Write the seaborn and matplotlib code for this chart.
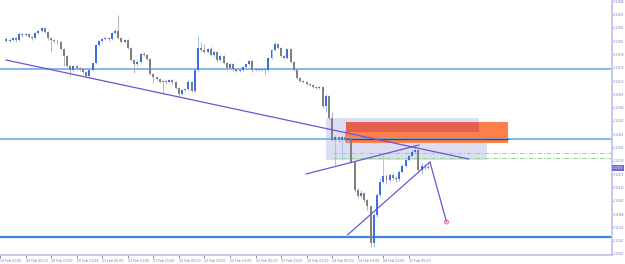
import matplotlib
matplotlib.use("Agg")
import matplotlib.pyplot as plt
import matplotlib.transforms as mtransforms
from matplotlib.patches import Rectangle
import seaborn as sns
import numpy as np
import pandas as pd

# ---------------- data (EURUSD-like H1 candles) ----------------
first_open = 1.13626
closes = [1.13602, 1.13614, 1.13639, 1.13614, 1.13688, 1.13675, 1.13688, 1.13651, 1.13639, 1.13700,
          1.13724, 1.13761, 1.13712, 1.13639, 1.13614, 1.13602, 1.13590, 1.13504, 1.13419, 1.13296,
          1.13248, 1.13296, 1.13272, 1.13260, 1.13223, 1.13174, 1.13248, 1.13333, 1.13553, 1.13602,
          1.13626, 1.13639, 1.13626, 1.13700, 1.13724, 1.13639, 1.13590, 1.13614, 1.13516, 1.13370,
          1.13321, 1.13345, 1.13443, 1.13431, 1.13382, 1.13199, 1.13162, 1.13138, 1.13101, 1.13113,
          1.13101, 1.13125, 1.13101, 1.13028, 1.12954, 1.13003, 1.13015, 1.13101, 1.12991, 1.13248,
          1.13516, 1.13492, 1.13468, 1.13504, 1.13431, 1.13468, 1.13370, 1.13419, 1.13333, 1.13272,
          1.13321, 1.13260, 1.13235, 1.13248, 1.13284, 1.13321, 1.13358, 1.13248, 1.13260, 1.13248,
          1.13260, 1.13248, 1.13394, 1.13492, 1.13565, 1.13516, 1.13419, 1.13394, 1.13504, 1.13345,
          1.13248, 1.13150, 1.13113, 1.13101, 1.13077, 1.13064, 1.13040, 1.13028, 1.13040, 1.12808,
          1.12930, 1.12661, 1.12392, 1.12429, 1.12392, 1.12429, 1.12392, 1.12417, 1.12123, 1.11781,
          1.11708, 1.11745, 1.11659, 1.11586, 1.11134, 1.11476, 1.11720, 1.11879, 1.11952, 1.11903,
          1.11964, 1.11928, 1.11916, 1.12001, 1.12074, 1.12148, 1.12197, 1.12246, 1.12270, 1.12026,
          1.12074, 1.12062, 1.12050]
highs = [1.13651, 1.13639, 1.13651, 1.13651, 1.13712, 1.13700, 1.13700, 1.13700, 1.13663, 1.13712,
         1.13736, 1.13773, 1.13773, 1.13724, 1.13651, 1.13626, 1.13614, 1.13602, 1.13516, 1.13431,
         1.13309, 1.13309, 1.13309, 1.13284, 1.13272, 1.13235, 1.13260, 1.13345, 1.13565, 1.13614,
         1.13639, 1.13651, 1.13651, 1.13712, 1.13749, 1.13920, 1.13651, 1.13626, 1.13626, 1.13529,
         1.13382, 1.13370, 1.13455, 1.13468, 1.13443, 1.13394, 1.13211, 1.13174, 1.13150, 1.13125,
         1.13125, 1.13138, 1.13138, 1.13113, 1.13040, 1.13015, 1.13028, 1.13125, 1.13113, 1.13260,
         1.13675, 1.13590, 1.13565, 1.13516, 1.13529, 1.13480, 1.13480, 1.13431, 1.13431, 1.13345,
         1.13333, 1.13333, 1.13272, 1.13260, 1.13296, 1.13333, 1.13370, 1.13370, 1.13272, 1.13272,
         1.13272, 1.13272, 1.13406, 1.13504, 1.13590, 1.13578, 1.13529, 1.13431, 1.13516, 1.13516,
         1.13358, 1.13260, 1.13162, 1.13125, 1.13113, 1.13089, 1.13077, 1.13052, 1.13052, 1.13052,
         1.12954, 1.12942, 1.12734, 1.12453, 1.12441, 1.12453, 1.12514, 1.12429, 1.12429, 1.12136,
         1.11806, 1.11781, 1.11757, 1.11671, 1.11598, 1.11500, 1.11745, 1.11928, 1.12209, 1.11977,
         1.11989, 1.11989, 1.11952, 1.12026, 1.12099, 1.12172, 1.12221, 1.12282, 1.12331, 1.12282,
         1.12111, 1.12099, 1.12087]
lows = [1.13590, 1.13590, 1.13602, 1.13590, 1.13602, 1.13651, 1.13663, 1.13639, 1.13614, 1.13626,
        1.13688, 1.13712, 1.13700, 1.13614, 1.13468, 1.13578, 1.13565, 1.13492, 1.13296, 1.13284,
        1.13174, 1.13235, 1.13248, 1.13235, 1.13199, 1.13150, 1.13150, 1.13235, 1.13321, 1.13541,
        1.13578, 1.13614, 1.13602, 1.13614, 1.13688, 1.13626, 1.13578, 1.13578, 1.13504, 1.13358,
        1.13211, 1.13296, 1.13333, 1.13419, 1.13370, 1.13186, 1.13089, 1.13125, 1.13089, 1.12967,
        1.13077, 1.13089, 1.13077, 1.13015, 1.12918, 1.12942, 1.12991, 1.13003, 1.12979, 1.12967,
        1.13235, 1.13468, 1.13455, 1.13455, 1.13419, 1.13406, 1.13345, 1.13358, 1.13321, 1.13248,
        1.13260, 1.13235, 1.13223, 1.13223, 1.13235, 1.13272, 1.13309, 1.13223, 1.13235, 1.13235,
        1.13235, 1.13199, 1.13235, 1.13382, 1.13480, 1.13504, 1.13406, 1.13382, 1.13382, 1.13333,
        1.13235, 1.13138, 1.13101, 1.13089, 1.13064, 1.13052, 1.13028, 1.13015, 1.13015, 1.12783,
        1.12734, 1.12637, 1.12380, 1.12087, 1.12368, 1.12148, 1.12368, 1.12380, 1.12111, 1.11757,
        1.11683, 1.11683, 1.11635, 1.11537, 1.11085, 1.11085, 1.11451, 1.11696, 1.11867, 1.11855,
        1.11879, 1.11903, 1.11879, 1.11891, 1.11989, 1.12062, 1.12136, 1.12184, 1.12233, 1.12001,
        1.11977, 1.12026, 1.12038]
first_candle_time = "2020-02-19 23:00"
axis_origin_time = "2020-02-19 21:00"

x_tick_labels = ["19 Feb 21:00", "20 Feb 05:00", "20 Feb 13:00", "20 Feb 21:00", "21 Feb 05:00",
                 "21 Feb 13:00", "21 Feb 21:00", "22 Feb 05:00", "22 Feb 13:00", "22 Feb 21:00",
                 "23 Feb 05:00", "23 Feb 13:00", "23 Feb 21:00", "24 Feb 05:00", "24 Feb 13:00",
                 "24 Feb 21:00", "25 Feb 05:00"]
x_tick_hours = [0, 8, 16, 24, 32, 40, 48, 56, 64, 72, 80, 88, 96, 104, 112, 120, 128]
y_tick_values = [1.11000, 1.11163, 1.11325, 1.11488, 1.11650, 1.11813, 1.11975, 1.12138, 1.12300,
                 1.12463, 1.12625, 1.12788, 1.12950, 1.13113, 1.13275, 1.13438, 1.13600, 1.13763,
                 1.13925, 1.14088]
y_tick_labels = ["%.5f" % v for v in y_tick_values]

blue_levels = [1.13260, 1.12405]
support_level = 1.11207
green_levels = [1.12233, 1.12172]
green_start_hour = 104.2
current_price = 1.12050

# zones: (hour0, hour1, price0, price1, colour)
zones = [
    (102.0, 152.6, 1.12148, 1.12490, "#dcdff2"),
    (102.0, 150.1, 1.12490, 1.12661, "#dcdff2"),
    (108.2, 159.1, 1.12356, 1.12612, "#fe8048"),
    (108.2, 150.1, 1.12490, 1.12612, "#e2624f"),
]
# trend lines: (hour0, price0, hour1, price1)
trend_lines = [
    (1.86, 1.13370, 146.7, 1.12160),
    (95.8, 1.11977, 131.2, 1.12331),
    (108.8, 1.11232, 134.6, 1.12123),
    (134.6, 1.12123, 139.8, 1.11390),
]
target_point = (139.8, 1.11390)

# ---------------- figure ----------------
sns.set_theme(style="white")
plt.rcParams["font.family"] = ["DejaVu Sans"]

fig = plt.figure(figsize=(6.25, 2.64), dpi=100)
ax = fig.add_axes([0, 9 / 264, 612 / 625, 255 / 264])
ax.set_facecolor("white")

times = pd.date_range(first_candle_time, periods=len(closes), freq="h")
hours = ((times - pd.Timestamp(axis_origin_time)) / pd.Timedelta(hours=1)).to_numpy()
opens = np.array([first_open] + closes[:-1])
cl = np.array(closes)
hi = np.array(highs)
lo = np.array(lows)
up = cl > opens

df = pd.DataFrame({"hour": hours, "open": opens, "close": cl, "high": hi, "low": lo, "up": up})

# zones
for h0, h1, p0, p1, c in zones:
    ax.add_patch(Rectangle((h0, p0), h1 - h0, p1 - p0, facecolor=c, edgecolor="none", zorder=1))

# horizontal levels
for lv in blue_levels:
    ax.axhline(lv, color="#7fb0ee", lw=1.3, zorder=1.5)
ax.plot([108.2, 159.1], [blue_levels[1], blue_levels[1]], color="#6a3a34", lw=1.0, zorder=1.6)
ax.axhline(support_level, color="#3f86e4", lw=1.6, zorder=1.5)
for lv in green_levels:
    ax.plot([green_start_hour, 200], [lv, lv], color="#8fdc8f", lw=0.8,
            linestyle=(0, (4, 1.5, 1, 1.5)), zorder=1.5)

# candles
wick_col = np.where(df["up"], "#a9c2f2", "#b5b5b5")
body_col = np.where(df["up"], "#3e6fe2", "#808080")
ax.vlines(df["hour"], df["low"], df["high"], colors=wick_col, lw=0.75, zorder=2)
body_bottom = np.minimum(df["open"], df["close"])
body_h = np.maximum(np.abs(df["close"] - df["open"]), 0.00004)
ax.bar(df["hour"], body_h, bottom=body_bottom, width=0.62, color=body_col, linewidth=0, zorder=3)

# trend lines
for h0, p0, h1, p1 in trend_lines:
    sns.lineplot(x=[h0, h1], y=[p0, p1], ax=ax, color="#6c55d6", lw=0.9, zorder=4)
sns.scatterplot(x=[target_point[0]], y=[target_point[1]], ax=ax, s=8, marker="o",
                facecolor="none", edgecolor="#f06a6a", linewidth=0.7, zorder=5)

# axes
ax.set_xlim(1.86, 191.6)
ax.set_ylim(1.10987, 1.14103)

axis_col = "#c4c4ec"
label_col = "#7272c8"
for s in ["left", "top"]:
    ax.spines[s].set_visible(False)
for s in ["right", "bottom"]:
    ax.spines[s].set_color(axis_col)
    ax.spines[s].set_linewidth(1.3)

ax.yaxis.tick_right()
ax.set_yticks(y_tick_values)
ax.set_yticklabels(y_tick_labels)
ax.tick_params(axis="y", which="both", direction="out", length=1.0, width=0.6, color=label_col,
               labelsize=1.85, labelcolor=label_col, pad=0.4, right=True, left=False)

ax.set_xticks(x_tick_hours)
ax.set_xticklabels(x_tick_labels)
ax.tick_params(axis="x", which="both", direction="out", length=2, width=0.6, color=label_col,
               labelsize=2.3, labelcolor=label_col, pad=1.0, bottom=True)
for lab in ax.get_xticklabels():
    lab.set_ha("left")

ax.grid(False)
ax.set_xlabel("")
ax.set_ylabel("")

# current price tag
trans = mtransforms.blended_transform_factory(ax.transAxes, ax.transData)
ax.text(1.001, current_price, "%.5f" % current_price, transform=trans, fontsize=1.85,
        color="white", ha="left", va="center", zorder=10, clip_on=False,
        bbox=dict(boxstyle="square,pad=0.3", facecolor="#6c6cd4", edgecolor="none"))

fig.savefig("out.png", dpi=100)
